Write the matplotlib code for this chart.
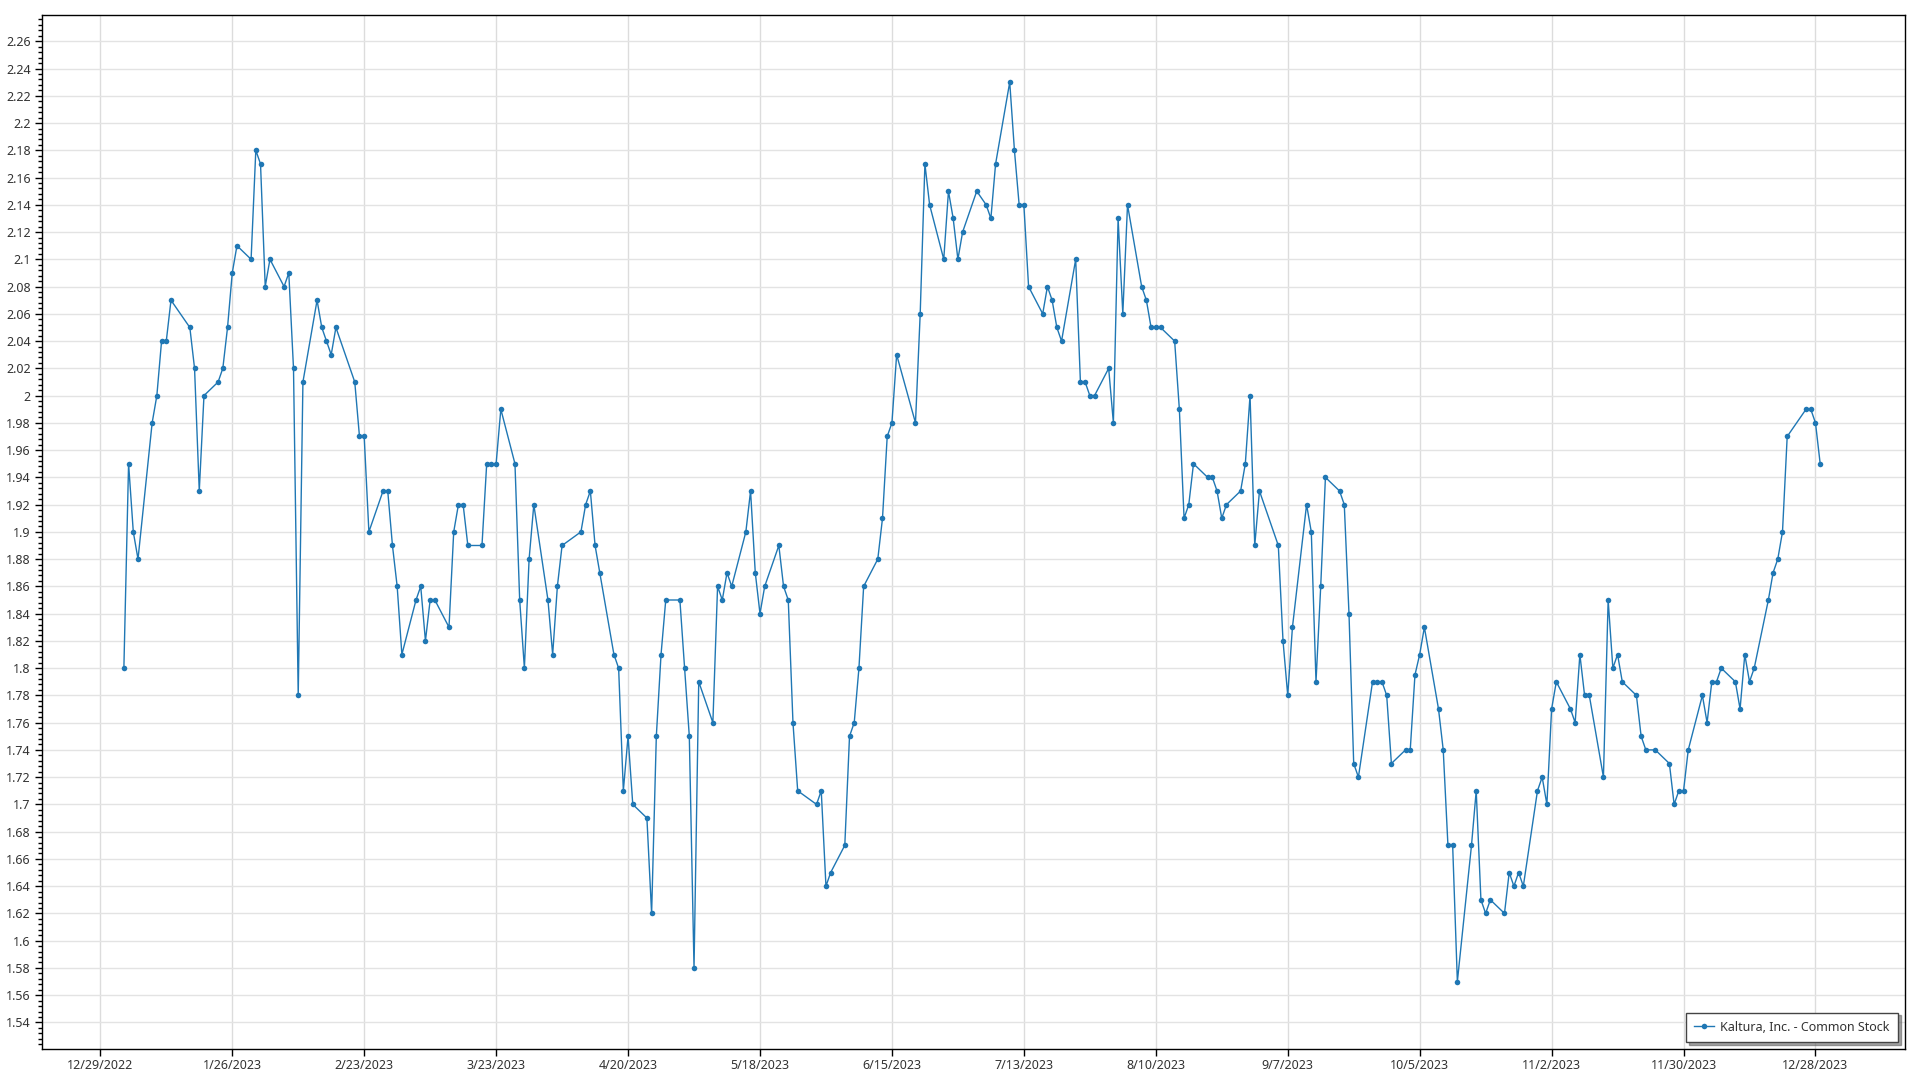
import matplotlib
matplotlib.use("Agg")
import matplotlib.pyplot as plt
from matplotlib.ticker import MultipleLocator, FuncFormatter
import pandas as pd

plt.rcParams['font.family'] = ['Noto Sans', 'DejaVu Sans']

series_name = "Kaltura, Inc. - Common Stock"

# NYSE holidays 2023 (market closed)
holidays_2023 = ["2023-01-02", "2023-01-16", "2023-02-20", "2023-04-07", "2023-05-29",
                 "2023-06-19", "2023-07-04", "2023-09-04", "2023-11-23", "2023-12-25"]

jan = [1.80, 1.95, 1.90, 1.88, 1.98, 2.00, 2.04, 2.04, 2.07, 2.05, 2.02, 1.93, 2.00, 2.01, 2.02, 2.05, 2.09, 2.11, 2.10, 2.18]
feb = [2.17, 2.08, 2.10, 2.08, 2.09, 2.02, 1.78, 2.01, 2.07, 2.05, 2.04, 2.03, 2.05, 2.01, 1.97, 1.97, 1.90, 1.93, 1.93]
mar = [1.89, 1.86, 1.81, 1.85, 1.86, 1.82, 1.85, 1.85, 1.83, 1.90, 1.92, 1.92, 1.89, 1.89, 1.95, 1.95, 1.95, 1.99, 1.95, 1.85, 1.80, 1.88, 1.92]
apr = [1.85, 1.81, 1.86, 1.89, 1.90, 1.92, 1.93, 1.89, 1.87, 1.81, 1.80, 1.71, 1.75, 1.70, 1.69, 1.62, 1.75, 1.81, 1.85]
may = [1.85, 1.80, 1.75, 1.58, 1.79, 1.76, 1.86, 1.85, 1.87, 1.86, 1.90, 1.93, 1.87, 1.84, 1.86, 1.89, 1.86, 1.85, 1.76, 1.71, 1.70, 1.71]
jun = [1.64, 1.65, 1.67, 1.75, 1.76, 1.80, 1.86, 1.88, 1.91, 1.97, 1.98, 2.03, 1.98, 2.06, 2.17, 2.14, 2.10, 2.15, 2.13, 2.10, 2.12]
jul = [2.15, 2.14, 2.13, 2.17, 2.23, 2.18, 2.14, 2.14, 2.08, 2.06, 2.08, 2.07, 2.05, 2.04, 2.10, 2.01, 2.01, 2.00, 2.00, 2.02]
aug = [1.98, 2.13, 2.06, 2.14, 2.08, 2.07, 2.05, 2.05, 2.05, 2.04, 1.99, 1.91, 1.92, 1.95, 1.94, 1.94, 1.93, 1.91, 1.92, 1.93, 1.95, 2.00, 1.89]
sep = [1.93, 1.89, 1.82, 1.78, 1.83, 1.92, 1.90, 1.79, 1.86, 1.94, 1.93, 1.92, 1.84, 1.73, 1.72, 1.79, 1.79, 1.79, 1.78, 1.73]
oct_ = [1.74, 1.74, 1.795, 1.81, 1.83, 1.77, 1.74, 1.67, 1.67, 1.57, 1.67, 1.71, 1.63, 1.62, 1.63, 1.62, 1.65, 1.64, 1.65, 1.64, 1.71, 1.72]
nov = [1.70, 1.77, 1.79, 1.77, 1.76, 1.81, 1.78, 1.78, 1.72, 1.85, 1.80, 1.81, 1.79, 1.78, 1.75, 1.74, 1.74, 1.73, 1.70, 1.71, 1.71]
dec = [1.74, 1.78, 1.76, 1.79, 1.79, 1.80, 1.79, 1.77, 1.81, 1.79, 1.80, 1.85, 1.87, 1.88, 1.90, 1.97, 1.99, 1.99, 1.98, 1.95]

prices = jan + feb + mar + apr + may + jun + jul + aug + sep + oct_ + nov + dec
dates = pd.bdate_range("2023-01-03", "2023-12-29", freq="C", holidays=holidays_2023)
assert len(dates) == len(prices)

x_tick_dates = pd.date_range("2022-12-29", periods=14, freq="28D")
x_tick_labels = [f"{d.month}/{d.day}/{d.year}" for d in x_tick_dates]

fig = plt.figure(figsize=(19.2, 10.8), dpi=100)
ax = fig.add_axes([42/1920, 1 - 1049/1080, (1905-42)/1920, (1049-15)/1080])

line_color = "#1f77b4"
ax.plot(dates, prices, color=line_color, lw=1.0, marker="o", markersize=4.0,
        markeredgewidth=0, label=series_name, zorder=3)

ax.set_xlim(pd.Timestamp("2022-12-16 15:00"), pd.Timestamp("2024-01-16 00:00"))
ax.set_ylim(1.5205, 2.2793)

ax.set_xticks(x_tick_dates)
ax.set_xticklabels(x_tick_labels)
ax.yaxis.set_major_locator(MultipleLocator(0.02))
ax.yaxis.set_minor_locator(MultipleLocator(0.004))
ax.yaxis.set_major_formatter(FuncFormatter(lambda v, p: f"{round(v, 2):g}"))

ax.grid(True, which="major", axis="y", color="#e3e3e3", lw=1.0, zorder=0)
ax.grid(True, which="major", axis="x", color="#dcdcdc", lw=1.0, zorder=0)
ax.set_axisbelow(True)

ax.tick_params(axis="both", which="major", direction="out", length=5, width=1,
               labelsize=9, labelcolor="#333333", color="black")
ax.tick_params(axis="x", which="major", pad=2)
ax.tick_params(axis="y", which="minor", direction="out", length=3, width=1, color="black")
ax.tick_params(axis="y", which="major", pad=3)
for s in ax.spines.values():
    s.set_color("black")
    s.set_linewidth(1.0)

leg = ax.legend(loc="lower right", frameon=True, fancybox=False, shadow=True,
                fontsize=9, borderpad=0.65, handlelength=1.6, handletextpad=0.5,
                borderaxespad=0, bbox_to_anchor=(0.9962, 0.0068))
leg.get_frame().set_edgecolor("#444444")
leg.get_frame().set_linewidth(1.0)
for t in leg.get_texts():
    t.set_color("#333333")

fig.savefig("out.png", dpi=100, facecolor="white")
